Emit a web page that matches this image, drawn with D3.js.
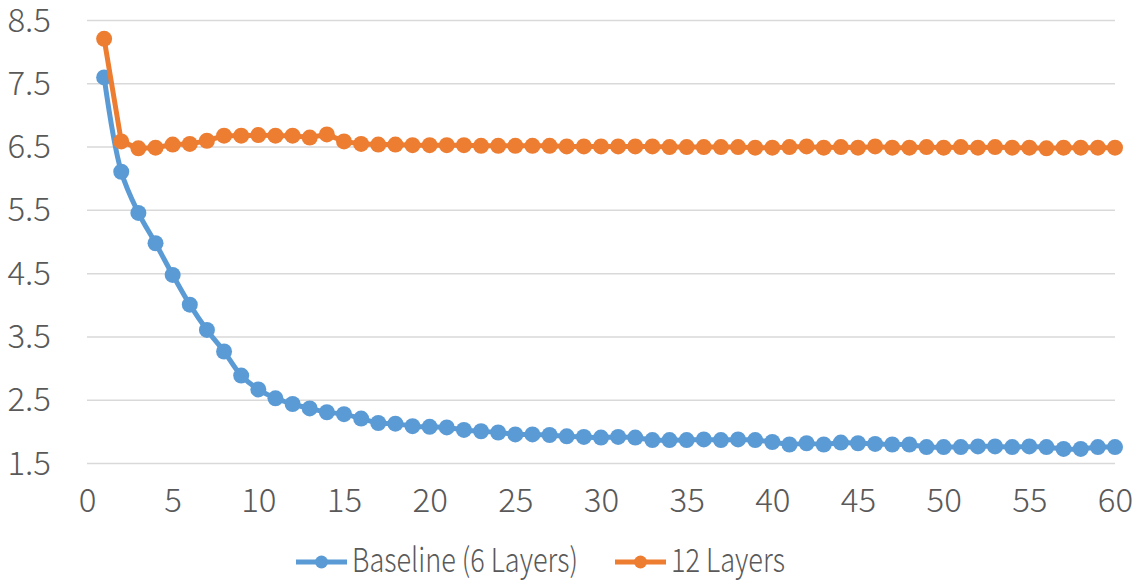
<!DOCTYPE html>
<html><head><meta charset="utf-8">
<script src="https://cdn.jsdelivr.net/npm/d3@7"></script>
<style>html,body{margin:0;padding:0;background:#fff;}</style>
</head><body>
<svg id="chart" width="1142" height="581"></svg>
<script>
const epochs = d3.range(1, 61);
const seriesNames = ["Baseline (6 Layers)", "12 Layers"];
const baseline = [7.60, 6.11, 5.46, 4.98, 4.48, 4.01, 3.61, 3.27, 2.89, 2.67, 2.53, 2.44, 2.37, 2.31, 2.28, 2.21, 2.14, 2.13, 2.09, 2.08,
  2.07, 2.03, 2.01, 1.99, 1.96, 1.96, 1.95, 1.93, 1.92, 1.91, 1.92, 1.91, 1.87, 1.87, 1.87, 1.88, 1.87, 1.88, 1.87, 1.84,
  1.80, 1.82, 1.80, 1.83, 1.82, 1.81, 1.80, 1.80, 1.76, 1.76, 1.76, 1.77, 1.77, 1.76, 1.77, 1.76, 1.73, 1.73, 1.76, 1.76];
const layers12 = [8.21, 6.59, 6.48, 6.49, 6.54, 6.55, 6.60, 6.68, 6.68, 6.69, 6.68, 6.68, 6.65, 6.70, 6.59, 6.55, 6.54, 6.54, 6.53, 6.53,
  6.53, 6.53, 6.52, 6.52, 6.52, 6.52, 6.52, 6.51, 6.51, 6.51, 6.51, 6.51, 6.51, 6.50, 6.50, 6.50, 6.50, 6.50, 6.49, 6.49,
  6.50, 6.51, 6.49, 6.50, 6.49, 6.51, 6.49, 6.49, 6.50, 6.49, 6.50, 6.49, 6.50, 6.49, 6.49, 6.48, 6.49, 6.49, 6.49, 6.49];
const yTicks = [1.5, 2.5, 3.5, 4.5, 5.5, 6.5, 7.5, 8.5];
const xTicks = [0, 5, 10, 15, 20, 25, 30, 35, 40, 45, 50, 55, 60];
const colors = ["#5B9BD5", "#ED7D31"];

const svg = d3.select("#chart");
const font = "'Noto Sans CJK SC', 'Noto Sans', sans-serif";
const textColor = "#595959";
const fontSize = 33;

const x = d3.scaleLinear().domain([0, 60]).range([87, 1115]);
const y = d3.scaleLinear().domain([1.5, 8.5]).range([463.5, 20.5]);

// gridlines
svg.append("g").selectAll("line").data(yTicks).join("line")
  .attr("x1", x(0)).attr("x2", x(60))
  .attr("y1", d => y(d)).attr("y2", d => y(d))
  .attr("stroke", "#D9D9D9").attr("stroke-width", 1.5);

// y axis labels
const yAxis = d3.axisLeft(y).tickValues(yTicks).tickFormat(d3.format(".1f")).tickSize(0).tickPadding(0);
const gy = svg.append("g").attr("transform", "translate(51,0)").call(yAxis);
gy.select(".domain").remove();
gy.selectAll("text").attr("font-family", font).attr("font-size", fontSize).attr("font-weight", 300).attr("fill", textColor);

// x axis labels
const xAxis = d3.axisBottom(x).tickValues(xTicks).tickFormat(d3.format("d")).tickSize(0).tickPadding(0);
const gx = svg.append("g").attr("transform", "translate(0,489)").call(xAxis);
gx.select(".domain").remove();
gx.selectAll("text").attr("font-family", font).attr("font-size", fontSize).attr("font-weight", 300).attr("fill", textColor);

const series = [baseline, layers12];
const curves = [d3.curveCatmullRom.alpha(0.5), d3.curveLinear];
series.forEach((vals, i) => {
  const pts = epochs.map((e, j) => [e, vals[j]]);
  const line = d3.line().x(d => x(d[0])).y(d => y(d[1])).curve(curves[i]);
  svg.append("path").datum(pts).attr("d", line)
    .attr("fill", "none").attr("stroke", colors[i]).attr("stroke-width", 5)
    .attr("stroke-linejoin", "round").attr("stroke-linecap", "round");
  svg.append("g").selectAll("circle").data(pts).join("circle")
    .attr("cx", d => x(d[0])).attr("cy", d => y(d[1])).attr("r", 8)
    .attr("fill", colors[i]);
});

// legend
const legendItems = [{name: seriesNames[0], x0: 296, w: 226}, {name: seriesNames[1], x0: 615, w: 114}];
const ly = 562;
legendItems.forEach((it, i) => {
  const g = svg.append("g");
  g.append("line").attr("x1", it.x0).attr("x2", it.x0 + 51).attr("y1", ly).attr("y2", ly)
    .attr("stroke", colors[i]).attr("stroke-width", 5);
  g.append("circle").attr("cx", it.x0 + 25.5).attr("cy", ly).attr("r", 6.5).attr("fill", colors[i]);
  g.append("text").attr("x", it.x0 + 56).attr("y", ly - 1.5).attr("dy", "0.35em")
    .attr("textLength", it.w).attr("lengthAdjust", "spacingAndGlyphs")
    .attr("font-family", font).attr("font-size", fontSize).attr("font-weight", 300).attr("fill", textColor).text(it.name);
});
</script>
</body></html>
